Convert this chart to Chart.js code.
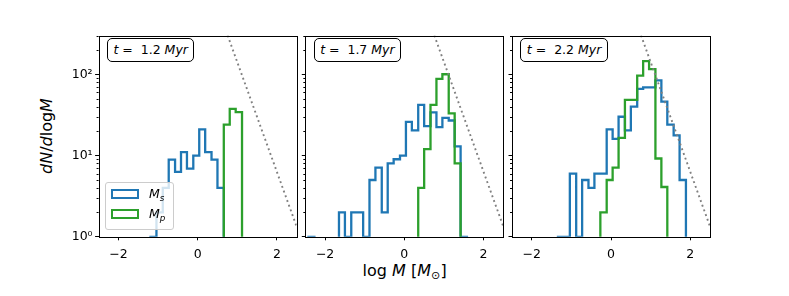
<!DOCTYPE html>
<html>
<head>
<meta charset="utf-8">
<script src="https://cdn.jsdelivr.net/npm/chart.js@4/dist/chart.umd.min.js"></script>
<style>
  html, body { margin: 0; padding: 0; background: #fff; }
  #fig { position: relative; width: 789px; height: 296px; overflow: hidden; font-family: 'DejaVu Sans', sans-serif; color: #000; }
  #fig canvas { position: absolute; left: 0; top: 0; }
  .tbox { position: absolute; top: 38.3px; width: 87.6px; height: 24px; box-sizing: border-box;
          border: 1px solid #000; border-radius: 5px; background: #fff;
          font-size: 12.5px; line-height: 22px; text-align: center; white-space: nowrap; }
  .legend { position: absolute; left: 105px; top: 181.7px; width: 69px; height: 48.3px; box-sizing: border-box;
            border: 1px solid #ccc; border-radius: 3px; background: rgba(255,255,255,0.8); font-size: 12.5px; }
  .legend .sw { position: absolute; left: 5px; width: 28.3px; height: 10px; box-sizing: border-box; border: 2.3px solid; }
  .legend .lb { position: absolute; left: 43px; line-height: 14px; white-space: nowrap; }
  .xlabel { position: absolute; left: 304.6px; width: 200px; top: 262px; text-align: center; font-size: 16px; line-height: 18px; white-space: nowrap; }
  .ylabel { position: absolute; left: 47px; top: 136px; transform: translate(-50%, -50%) rotate(-90deg);
            font-size: 16px; line-height: 18px; white-space: nowrap; }
  sub { font-size: 70%; vertical-align: -0.3em; line-height: 0; }
</style>
</head>
<body>
<div id="fig">
  <div class="ylabel"><i>dN</i>/<i>d</i>log<i>M</i></div>
  <div class="xlabel">log <i>M</i> [<i>M</i><sub>⊙</sub>]</div>
</div>
<script>
// shared histogram bin edges (log M)
const BIN_EDGES = [-2.42, -2.27, -2.11, -1.96, -1.80, -1.65, -1.50, -1.34, -1.19, -1.04,
                   -0.88, -0.73, -0.57, -0.42, -0.27, -0.11, 0.04, 0.19, 0.35, 0.50,
                   0.66, 0.81, 0.96, 1.12, 1.27, 1.42, 1.58, 1.73, 1.89];

// dN/dlogM per bin — Ms (blue) and Mp (green), one pair per snapshot
const MS_T12 = [0, 0, 0, 0, 0, 0, 0, 0, 1, 2, 4, 8.9, 6.3, 11, 6.9, 10, 21, 11, 8.9, 4.0, 0, 0, 0, 0, 0, 0, 0, 0];
const MP_T12 = [0, 0, 0, 0, 0, 0, 0, 0, 0, 0, 0, 0, 0, 0, 0, 0, 0, 0, 0, 0, 24, 37.6, 34.2, 0, 0, 0, 0, 0];
const MS_T17 = [1, 0, 0, 0, 0, 2, 1, 2, 2, 1, 5, 7.1, 2, 8, 9, 10, 26, 20.4, 42, 23, 34, 22.4, 29, 27, 13, 1, 0, 0];
const MP_T17 = [0, 0, 0, 0, 0, 0, 0, 0, 0, 0, 0, 0, 0, 0, 0, 0, 0, 0, 4, 12, 42, 88, 100, 33, 8, 0, 0, 0];
const MS_T22 = [0, 0, 0, 0, 0, 0, 0, 1, 1, 6, 1, 5, 4, 6, 6, 21, 16, 30, 20.4, 40, 66, 69, 69, 84, 46, 24, 17.7, 5];
const MP_T22 = [0, 0, 0, 0, 0, 0, 0, 0, 0, 0, 0, 0, 0, 0, 2, 5, 7.1, 16.5, 48.5, 48.5, 96, 145, 116, 9.2, 4.1, 0, 0, 0];

const TIMES = ['1.2', '1.7', '2.2'];
const MS_SETS = [MS_T12, MS_T17, MS_T22];
const MP_SETS = [MP_T12, MP_T17, MP_T22];

// dotted reference power law, two end points
const REF_X = [0.5, 2.5];
const REF_Y = [668, 1.33];

const X_TICKS = [-2, 0, 2];
const Y_MAJOR = [1, 10, 100];
const Y_LABELS = ['10⁰', '10¹', '10²'];

const BLUE = '#1f77b4', GREEN = '#2ca02c';
const FLOOR = 1e-3;   // empty bins drop below the axis like matplotlib's clip

// figure geometry
const FIG_W = 789, FIG_H = 296;
const PANEL_LEFT = [98.6, 305.3, 512.0];
const PANEL_W = 198.1, AREA_TOP = 35.5, AREA_BOTTOM = 236.8;
const Y_AXIS_W = [50, 6, 6];

// outline of a step histogram: up at the first edge, across each bin, down at the last edge.
// Chart.js 'after' steps go vertical at the previous x, then across to the point.
function stepPoints(vals) {
  const pts = [{ x: BIN_EDGES[0], y: FLOOR }];
  vals.forEach((v, i) => pts.push({ x: BIN_EDGES[i + 1], y: v > 0 ? v : FLOOR }));
  pts.push({ x: BIN_EDGES[vals.length], y: FLOOR });
  return pts;
}

function yTickList() {
  const out = [];
  [1, 10, 100].forEach(d => {
    for (let m = 1; m <= 9; m++) {
      const v = d * m;
      if (v <= 300) out.push({ value: v, major: m === 1 });
    }
  });
  return out;
}

// frame + short minor ticks
const framePlugin = {
  id: 'frame',
  afterDraw(chart) {
    const { ctx, chartArea: a } = chart;
    const ys = chart.scales.y;
    ctx.save();
    ctx.strokeStyle = '#000';
    ctx.lineWidth = 1;
    ys.ticks.forEach(t => {
      if (t.major) return;
      const py = Math.round(ys.getPixelForValue(t.value)) + 0.5;
      ctx.beginPath();
      ctx.moveTo(a.left, py);
      ctx.lineTo(a.left - 2, py);
      ctx.stroke();
    });
    ctx.strokeRect(Math.round(a.left) + 0.5, Math.round(a.top) + 0.5,
                   Math.round(a.right - a.left), Math.round(a.bottom - a.top));
    ctx.restore();
  }
};

const fig = document.getElementById('fig');

TIMES.forEach((t, i) => {
  const cv = document.createElement('canvas');
  cv.width = FIG_W; cv.height = FIG_H;
  fig.appendChild(cv);

  const box = document.createElement('div');
  box.className = 'tbox';
  box.style.left = (PANEL_LEFT[i] + 8.3) + 'px';
  box.innerHTML = '<i>t</i> =&nbsp; ' + t + ' <i>Myr</i>';
  fig.appendChild(box);

  new Chart(cv, {
    type: 'line',
    data: {
      datasets: [
        { label: 'ref', data: REF_X.map((x, k) => ({ x, y: REF_Y[k] })),
          borderColor: '#808080', borderWidth: 1.9, borderDash: [1.9, 3.1], order: 0 },
        { label: 'Mp', data: stepPoints(MP_SETS[i]), stepped: 'after',
          borderColor: GREEN, borderWidth: 2.3, order: 1 },
        { label: 'Ms', data: stepPoints(MS_SETS[i]), stepped: 'after',
          borderColor: BLUE, borderWidth: 2.3, order: 2 },
      ]
    },
    options: {
      responsive: false,
      animation: false,
      devicePixelRatio: 1,
      layout: {
        padding: {
          left: PANEL_LEFT[i] - Y_AXIS_W[i],
          right: FIG_W - PANEL_LEFT[i] - PANEL_W,
          top: AREA_TOP, bottom: 0
        }
      },
      elements: {
        point: { radius: 0, hoverRadius: 0 },
        line: { tension: 0, fill: false, borderJoinStyle: 'miter', borderCapStyle: 'butt' }
      },
      plugins: { legend: { display: false }, tooltip: { enabled: false } },
      scales: {
        x: {
          type: 'linear', min: -2.5, max: 2.5,
          afterBuildTicks: s => { s.ticks = X_TICKS.map(v => ({ value: v })); },
          afterFit: s => { s.height = FIG_H - AREA_BOTTOM; },
          border: { display: false },
          grid: { drawOnChartArea: false, tickLength: 3.5, tickColor: '#000', tickWidth: 1 },
          ticks: {
            color: '#000', padding: 6.5, maxRotation: 0, autoSkip: false,
            font: { family: 'DejaVu Sans', size: 12.5 },
            callback: v => (v < 0 ? '\u2212' + Math.abs(v) : String(v))
          }
        },
        y: {
          type: 'logarithmic', min: 1, max: 300,
          afterBuildTicks: s => { s.ticks = yTickList(); },
          afterFit: s => { s.width = Y_AXIS_W[i]; },
          border: { display: false },
          grid: {
            drawOnChartArea: false, tickLength: 3.5, tickWidth: 1,
            tickColor: c => (c.tick && c.tick.major ? '#000' : 'rgba(0,0,0,0)')
          },
          ticks: {
            display: i === 0, color: '#000', padding: 2.5, autoSkip: false,
            font: { family: 'DejaVu Sans', size: 12.5 },
            callback: v => { const k = Y_MAJOR.indexOf(v); return k >= 0 ? Y_LABELS[k] : ''; }
          }
        }
      }
    },
    plugins: [framePlugin]
  });
});

// legend (first panel), drawn above the data like matplotlib's
const leg = document.createElement('div');
leg.className = 'legend';
leg.innerHTML =
  '<div class="sw" style="top:6.6px;border-color:' + BLUE + '"></div>' +
  '<div class="lb" style="top:4.5px"><i>M<sub>s</sub></i></div>' +
  '<div class="sw" style="top:26.6px;border-color:' + GREEN + '"></div>' +
  '<div class="lb" style="top:24.5px"><i>M<sub>p</sub></i></div>';
fig.appendChild(leg);
</script>
</body>
</html>
